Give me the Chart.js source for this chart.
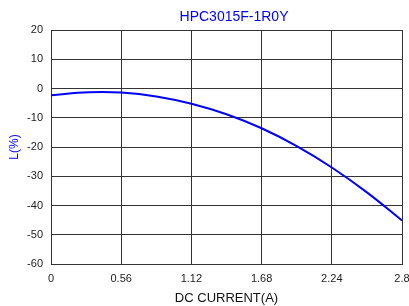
<!DOCTYPE html>
<html>
<head>
<meta charset="utf-8">
<script src="https://cdn.jsdelivr.net/npm/chart.js@4"></script>
<style>
  html, body { margin: 0; padding: 0; background: #fff; }
  #wrap { width: 409px; height: 306px; position: relative; }
</style>
</head>
<body>
<div id="wrap"><canvas id="inductance"></canvas></div>
<script>
const chartTitle = "HPC3015F-1R0Y";
const currentA = [0, 0.3, 0.56, 0.84, 1.12, 1.4, 1.68, 1.96, 2.24, 2.52, 2.8];
const inductanceDrop = [-2.3, -1.3, -1.4, -2.7, -5.2, -8.8, -13.6, -19.7, -27.0, -35.5, -45.1];
const xTicks = [0, 0.56, 1.12, 1.68, 2.24, 2.8];
const yTicks = [-60, -50, -40, -30, -20, -10, 0, 10, 20];

const points = currentA.map((x, i) => ({ x: x, y: inductanceDrop[i] }));

// title sits over the plot, a bit right of centre
const titlePlugin = {
  id: "topTitle",
  afterDraw(chart) {
    const c = chart.ctx;
    c.save();
    c.font = "14px 'Liberation Sans', Arial, sans-serif";
    c.fillStyle = "#0000ff";
    c.textAlign = "center";
    c.textBaseline = "middle";
    c.fillText(chartTitle, 234, 17);
    c.restore();
  }
};

const ctx = document.getElementById("inductance").getContext("2d");
const chart = new Chart(ctx, {
  type: "scatter",
  data: {
    datasets: [{
      data: points,
      showLine: true,
      borderColor: "#0000ff",
      borderWidth: 2,
      pointRadius: 0,
      tension: 0.4,
      fill: false
    }]
  },
  options: {
    responsive: true,
    maintainAspectRatio: false,
    animation: false,
    layout: { padding: { top: 30, right: 7, left: 0, bottom: 0 } },
    plugins: {
      legend: { display: false },
      tooltip: { enabled: false },
      title: { display: false }
    },
    scales: {
      x: {
        type: "linear",
        min: 0,
        max: 2.8,
        afterBuildTicks: (scale) => { scale.ticks = xTicks.map(v => ({ value: v })); },
        afterFit: (scale) => { scale.height = 42; scale.paddingRight = 0; scale.paddingLeft = 0; },
        grid: { color: "#333", lineWidth: 1, drawTicks: false },
        border: { color: "#333", width: 1 },
        ticks: {
          padding: 8,
          color: "#222",
          font: { family: "'Liberation Sans', Arial, sans-serif", size: 11 },
          callback: (v) => String(v)
        },
        title: {
          display: true,
          text: "DC CURRENT(A)",
          color: "#111",
          padding: { top: 0, bottom: 0 },
          font: { family: "'Liberation Sans', Arial, sans-serif", size: 13 }
        }
      },
      y: {
        min: -60,
        max: 20,
        afterBuildTicks: (scale) => { scale.ticks = yTicks.map(v => ({ value: v })); },
        afterFit: (scale) => { scale.width = 51; scale.paddingTop = 0; scale.paddingBottom = 0; },
        grid: { color: "#333", lineWidth: 1, drawTicks: false },
        border: { color: "#333", width: 1 },
        ticks: {
          padding: 8,
          color: "#222",
          font: { family: "'Liberation Sans', Arial, sans-serif", size: 11 }
        },
        title: {
          display: true,
          text: "L(%)",
          color: "#0000ff",
          padding: { top: 7, bottom: 7 },
          font: { family: "'Liberation Sans', Arial, sans-serif", size: 12 }
        }
      }
    }
  },
  plugins: [titlePlugin]
});
</script>
</body>
</html>
